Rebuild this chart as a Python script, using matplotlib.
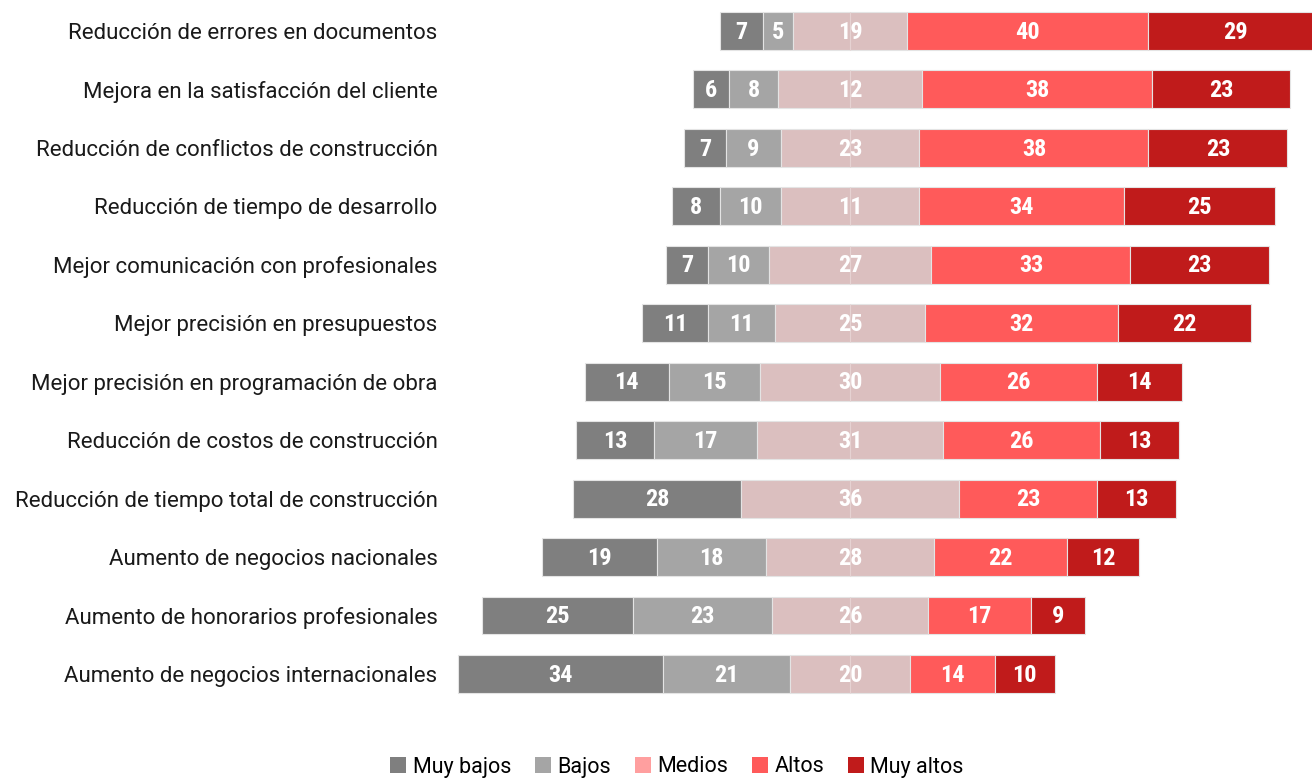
import numpy as np
import matplotlib.pyplot as plt
from matplotlib.patches import Patch

plt.rcParams['font.family'] = ['Roboto', 'DejaVu Sans']

categories = ['Reducción de errores en documentos',
              'Mejora en la satisfacción del cliente',
              'Reducción de conflictos de construcción',
              'Reducción de tiempo de desarrollo',
              'Mejor comunicación con profesionales',
              'Mejor precisión en presupuestos',
              'Mejor precisión en programación de obra',
              'Reducción de costos de construcción',
              'Reducción de tiempo total de construcción',
              'Aumento de negocios nacionales',
              'Aumento de honorarios profesionales',
              'Aumento de negocios internacionales']
muy_bajos = [7, 6, 7, 8, 7, 11, 14, 13, 28, 19, 25, 34]
bajos = [5, 8, 9, 10, 10, 11, 15, 17, 0, 18, 23, 21]
medios = [19, 24, 23, 23, 27, 25, 30, 31, 36, 28, 26, 20]
medios_labels = [19, 12, 23, 11, 27, 25, 30, 31, 36, 28, 26, 20]
altos = [40, 38, 38, 34, 33, 32, 26, 26, 23, 22, 17, 14]
muy_altos = [29, 23, 23, 25, 23, 22, 14, 13, 13, 12, 9, 10]

series_names = ['Muy bajos', 'Bajos', 'Medios', 'Altos', 'Muy altos']
colors = ['#7f7f7f', '#a5a5a5', '#dbbfbf', '#ff5a5a', '#c01b1b']
legend_colors = ['#7f7f7f', '#a5a5a5', '#ff9f9f', '#ff5a5a', '#c01b1b']
num_font = ['Liberation Sans Narrow', 'Roboto Condensed', 'Roboto']

fig = plt.figure(figsize=(13.12, 7.8), dpi=100)
ax = fig.add_axes([450 / 1312, 60 / 780, 1 - 450 / 1312, 720 / 780])

y = np.arange(len(categories))
mb = np.array(muy_bajos)
b = np.array(bajos)
m = np.array(medios)
a = np.array(altos)
ma = np.array(muy_altos)

# diverging: centre of "Medios" sits at zero
half = m / 2
lefts = [-half - b - mb, -half - b, -half, half, half + a]
widths = [mb, b, m, a, ma]
labels = [muy_bajos, bajos, medios_labels, altos, muy_altos]

h = 0.65
for k in range(5):
    for i in range(len(categories)):
        if widths[k][i] == 0:
            continue
        ax.barh(y[i], widths[k][i], left=lefts[k][i], height=h,
                color=colors[k], edgecolor='#e4e4e4', linewidth=0.8)
        ax.text(lefts[k][i] + widths[k][i] / 2, y[i] + 0.02, str(labels[k][i]),
                ha='center', va='center', color='white', fontsize=17.5,
                fontweight='bold', family=num_font)

# faint split line in the middle of "Medios"
ax.vlines(np.zeros(len(y)), y - h / 2, y + h / 2, color='#e6d2d2', linewidth=0.8)

ax.set_xlim((450 - 850) / 6.03, (1312 - 850) / 6.03)
ax.set_ylim((720 - 31) / 58.45, -31 / 58.45)
ax.set_yticks(y)
ax.set_yticklabels(categories, fontsize=16, color='#1a1a1a')
ax.tick_params(axis='y', length=0, pad=9)
ax.set_xticks([])
for s in ax.spines.values():
    s.set_visible(False)

handles = [Patch(facecolor=c, label=n) for c, n in zip(legend_colors, series_names)]
fig.legend(handles=handles, loc='center', bbox_to_anchor=(677 / 1312, 1 - 767 / 780),
           ncol=5, frameon=False, fontsize=15.5, handlelength=0.75, handleheight=0.75,
           handletextpad=0.3, columnspacing=1.1)

fig.savefig('out.png', dpi=100)
